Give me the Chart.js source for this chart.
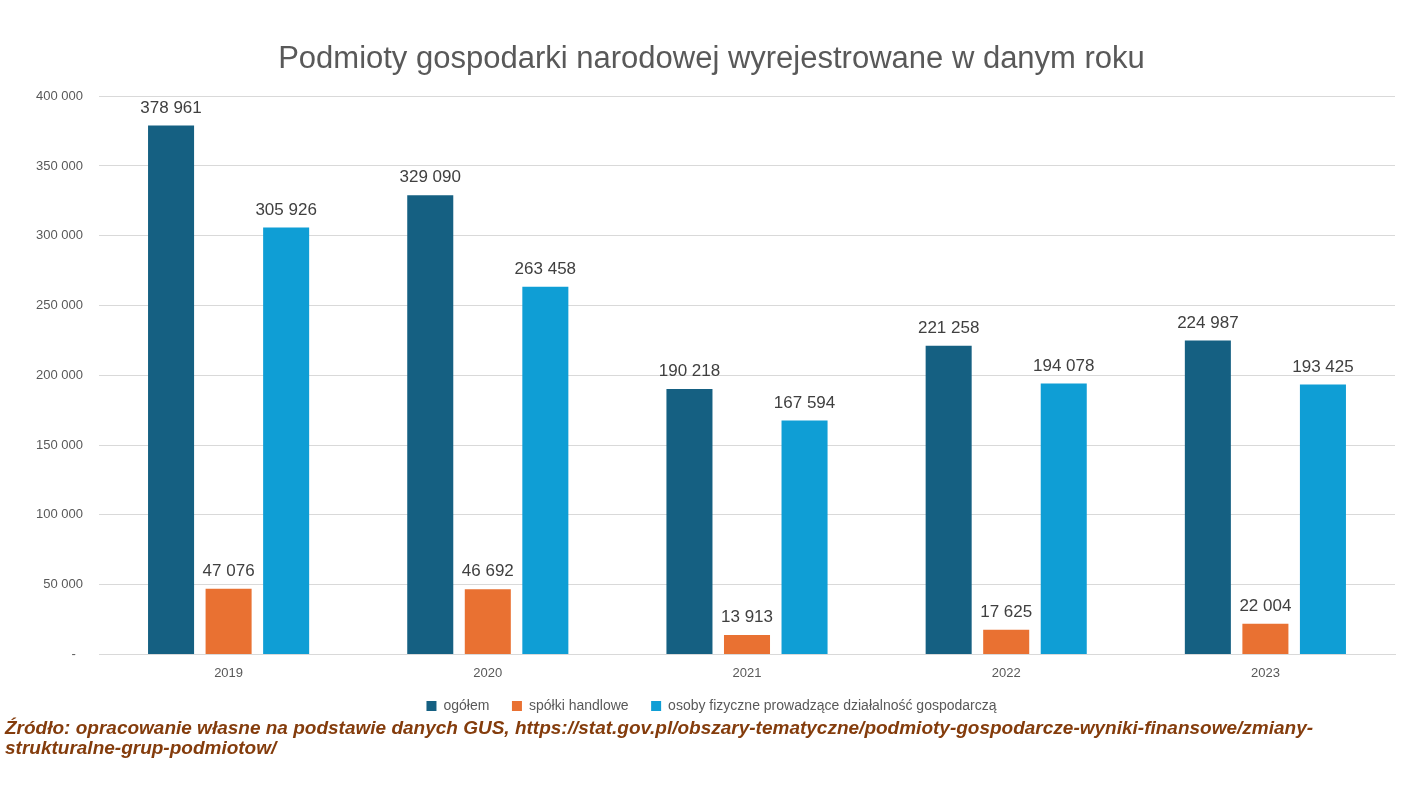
<!DOCTYPE html>
<html lang="pl">
<head>
<meta charset="utf-8">
<title>Podmioty gospodarki narodowej wyrejestrowane</title>
<script src="https://cdn.jsdelivr.net/npm/chart.js@4"></script>
<style>
  html, body { margin: 0; padding: 0; background: #ffffff; }
  #wrap { position: relative; width: 1404px; height: 795px; }
  #zrodlo {
    position: absolute; left: 5px; top: 718px;
    font-family: 'Liberation Sans', Arial, sans-serif;
    font-weight: bold; font-style: italic;
    font-size: 19px; line-height: 20px;
    color: #843C0C; white-space: nowrap;
  }
</style>
</head>
<body>
<div id="wrap">
  <canvas id="wykres" width="1404" height="723"></canvas>
  <div id="zrodlo">Źródło: opracowanie własne na podstawie danych GUS, https://stat.gov.pl/obszary-tematyczne/podmioty-gospodarcze-wyniki-finansowe/zmiany-<br>strukturalne-grup-podmiotow/</div>
</div>
<script>
const lata = ["2019", "2020", "2021", "2022", "2023"];

const ogolem = [378961, 329090, 190218, 221258, 224987];
const spolkiHandlowe = [47076, 46692, 13913, 17625, 22004];
const osobyFizyczne = [305926, 263458, 167594, 194078, 193425];

const tickiY = [0, 50000, 100000, 150000, 200000, 250000, 300000, 350000, 400000];

function formatLiczba(v) {
    return String(v).replace(/\B(?=(\d{3})+(?!\d))/g, ' ');
}

// etykiety wartości nad słupkami
const etykietyPlugin = {
    id: 'etykiety',
    afterDatasetsDraw(chart) {
        const ctx = chart.ctx;
        ctx.save();
        ctx.font = '17px "Liberation Sans", Arial, sans-serif';
        ctx.fillStyle = '#404040';
        ctx.textAlign = 'center';
        ctx.textBaseline = 'bottom';
        chart.data.datasets.forEach((ds, i) => {
            const meta = chart.getDatasetMeta(i);
            meta.data.forEach((bar, j) => {
                ctx.fillText(formatLiczba(ds.data[j]), bar.x, bar.y - 9);
            });
        });
        ctx.restore();
    }
};

const ctx = document.getElementById('wykres').getContext('2d');
new Chart(ctx, {
    type: 'bar',
    data: {
        labels: lata,
        datasets: [
            { label: 'ogółem', data: ogolem, backgroundColor: '#156082' },
            { label: 'spółki handlowe', data: spolkiHandlowe, backgroundColor: '#E97132' },
            { label: 'osoby fizyczne prowadzące działalność gospodarczą', data: osobyFizyczne, backgroundColor: '#0F9ED5' }
        ]
    },
    options: {
        responsive: false,
        animation: false,
        categoryPercentage: 0.666,
        barPercentage: 0.8,
        layout: { padding: { left: 28, right: 9, top: 0, bottom: 0 } },
        plugins: {
            title: {
                display: true,
                text: 'Podmioty gospodarki narodowej wyrejestrowane w danym roku',
                color: '#595959',
                font: { family: '"Liberation Sans", Arial, sans-serif', size: 31, weight: 'normal' },
                padding: { top: 41, bottom: 18 }
            },
            legend: {
                position: 'bottom',
                labels: {
                    color: '#595959',
                    boxWidth: 10,
                    boxHeight: 10,
                    padding: 7,
                    font: { family: '"Liberation Sans Narrow", "Liberation Sans", Arial, sans-serif', size: 14 },
                    // większe odstępy między pozycjami legendy
                    generateLabels(chart) {
                        const items = Chart.defaults.plugins.legend.labels.generateLabels(chart);
                        items.forEach((it, i) => {
                            if (i < items.length - 1) it.text = it.text + '    ';
                        });
                        return items;
                    }
                }
            },
            tooltip: { enabled: false }
        },
        scales: {
            x: {
                grid: { display: false, drawTicks: false },
                border: { color: '#D9D9D9' },
                ticks: {
                    color: '#595959',
                    padding: 11,
                    font: { family: '"Liberation Sans", Arial, sans-serif', size: 13 }
                }
            },
            y: {
                min: 0,
                max: 400000,
                afterFit(scale) { scale.width = 71; },
                afterBuildTicks(scale) { scale.ticks = tickiY.map(v => ({ value: v })); },
                grid: { color: '#D9D9D9', drawTicks: false },
                border: { display: false },
                ticks: {
                    color: '#595959',
                    padding: 16,
                    font: { family: '"Liberation Sans", Arial, sans-serif', size: 13 },
                    callback: v => v === 0 ? '-  ' : formatLiczba(v)
                }
            }
        }
    },
    plugins: [etykietyPlugin]
});
</script>
</body>
</html>
